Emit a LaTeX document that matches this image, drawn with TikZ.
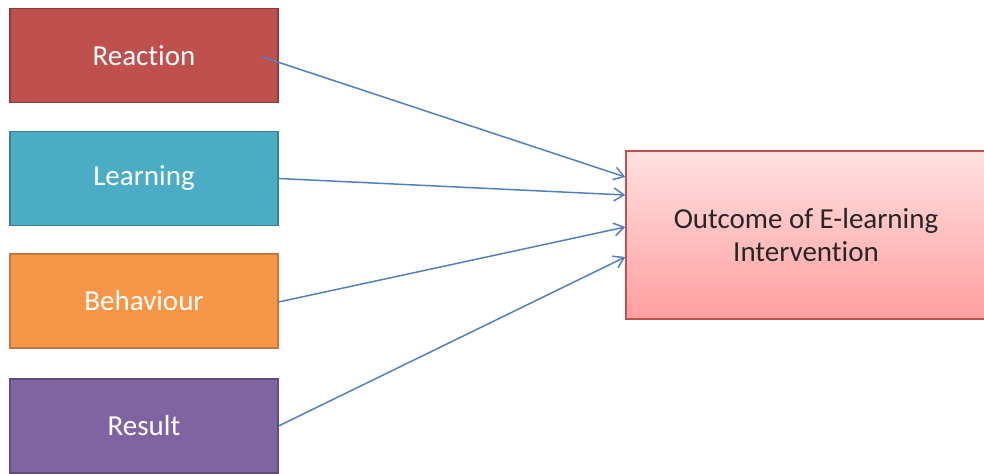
\documentclass[tikz,border=0pt]{standalone}
\usepackage{fontspec}
\setmainfont{Carlito}[Ligatures=NoCommon]
\usetikzlibrary{arrows.meta,positioning}

\definecolor{redbox}{HTML}{C0504D}
\definecolor{tealbox}{HTML}{4BACC6}
\definecolor{orangebox}{HTML}{F79646}
\definecolor{purplebox}{HTML}{8064A2}
\definecolor{pinktop}{HTML}{FFE1E1}
\definecolor{pinkbot}{HTML}{FF9E9E}
\definecolor{arrowblue}{HTML}{4F81BD}

\begin{document}
\begin{tikzpicture}[>=Latex,
  levelbox/.style={minimum width=5.36cm,minimum height=1.88cm,align=center,text=white,font=\fontsize{16.5}{19}\selectfont,line width=0.6pt,inner sep=2pt},
  link/.style={draw=arrowblue,line width=0.85pt,-{Straight Barb[length=2mm,width=2.6mm]}}]
\useasboundingbox (0,0) rectangle (19.68,-9.46);
\node[levelbox,fill=redbox,draw=redbox!75!black] (rea) at (2.88,-1.11) {Reaction};
\node[levelbox,fill=tealbox,draw=tealbox!75!black] (lea) at (2.88,-3.57) {Learning};
\node[levelbox,fill=orangebox,draw=orangebox!80!black] (beh) at (2.88,-6.02) {Behaviour};
\node[levelbox,fill=purplebox,draw=purplebox!75!black] (res) at (2.88,-8.52) {Result};
\node[draw=redbox,line width=0.8pt,top color=pinktop,bottom color=pinkbot,minimum width=7.2cm,minimum height=3.36cm,align=center,text=black!85,font=\fontsize{16.5}{19}\selectfont,inner sep=2pt] (out) at (16.12,-4.7) {Outcome of E-learning\\Intervention};
\draw[link] ([xshift=-0.32cm,yshift=-0.03cm]rea.east)--([yshift=1.16cm]out.west);
\draw[link] (lea.east)--([yshift=0.8cm]out.west);
\draw[link] ([yshift=-0.02cm]beh.east)--([yshift=0.16cm]out.west);
\draw[link] (res.east)--([yshift=-0.44cm]out.west);
\end{tikzpicture}
\end{document}
